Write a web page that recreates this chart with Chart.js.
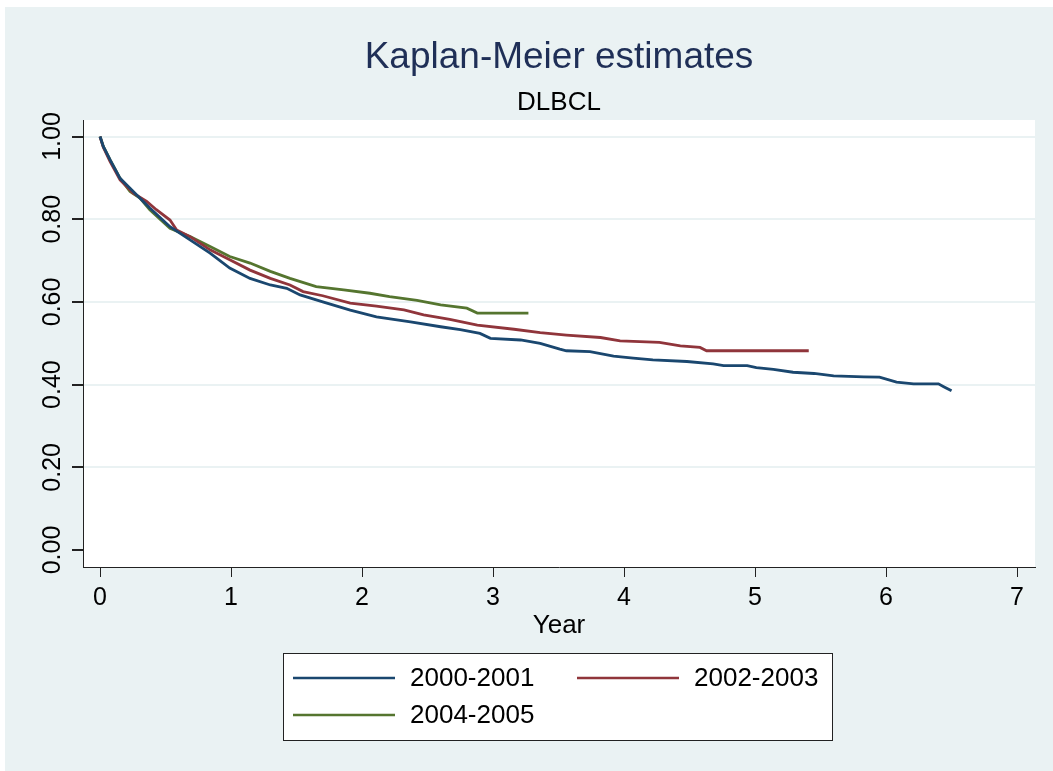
<!DOCTYPE html>
<html>
<head>
<meta charset="utf-8">
<script src="https://cdn.jsdelivr.net/npm/chart.js@4"></script>
<style>
  html, body { margin: 0; padding: 0; background: #fff; }
  #wrap { width: 1053px; height: 771px; }
</style>
</head>
<body>
<div id="wrap"><canvas id="kmChart" width="1053" height="771"></canvas></div>
<script>
// Kaplan-Meier survival estimates
var labels = ["2000-2001", "2002-2003", "2004-2005"];

var years2000 = [0, 0.025, 0.076, 0.153, 0.229, 0.38, 0.534, 0.687, 0.84, 0.99, 1.145, 1.30, 1.425, 1.527, 1.70, 1.91, 2.11, 2.37, 2.60, 2.75, 2.90, 2.98, 3.21, 3.36, 3.51, 3.56, 3.74, 3.92, 4.07, 4.22, 4.48, 4.68, 4.76, 4.94, 5.01, 5.14, 5.29, 5.45, 5.60, 5.83, 5.95, 6.08, 6.21, 6.40, 6.44, 6.50];
var surv2000  = [1, 0.976, 0.944, 0.899, 0.875, 0.827, 0.782, 0.750, 0.718, 0.682, 0.657, 0.641, 0.633, 0.617, 0.600, 0.580, 0.564, 0.552, 0.540, 0.533, 0.524, 0.512, 0.508, 0.500, 0.486, 0.482, 0.480, 0.469, 0.464, 0.460, 0.456, 0.450, 0.446, 0.446, 0.441, 0.437, 0.430, 0.427, 0.421, 0.419, 0.418, 0.406, 0.402, 0.402, 0.395, 0.385];

var years2002 = [0, 0.025, 0.076, 0.153, 0.254, 0.356, 0.43, 0.534, 0.585, 0.687, 0.84, 0.99, 1.145, 1.30, 1.45, 1.55, 1.70, 1.91, 2.11, 2.32, 2.47, 2.67, 2.88, 3.16, 3.36, 3.56, 3.82, 3.97, 4.27, 4.43, 4.58, 4.63, 5.41];
var surv2002  = [1, 0.974, 0.940, 0.895, 0.863, 0.843, 0.823, 0.798, 0.774, 0.758, 0.726, 0.702, 0.677, 0.657, 0.641, 0.625, 0.615, 0.597, 0.590, 0.581, 0.569, 0.558, 0.544, 0.534, 0.526, 0.520, 0.514, 0.506, 0.502, 0.494, 0.490, 0.482, 0.482];

var years2004 = [0, 0.025, 0.076, 0.153, 0.229, 0.305, 0.38, 0.534, 0.687, 0.84, 0.99, 1.145, 1.30, 1.45, 1.65, 1.86, 2.06, 2.21, 2.42, 2.60, 2.80, 2.88, 3.27];
var surv2004  = [1, 0.976, 0.944, 0.899, 0.867, 0.851, 0.823, 0.778, 0.758, 0.734, 0.710, 0.694, 0.674, 0.657, 0.637, 0.629, 0.621, 0.613, 0.604, 0.593, 0.585, 0.573, 0.573];

var xTicks = [0, 1, 2, 3, 4, 5, 6, 7];
var yTicks = [0, 0.2, 0.4, 0.6, 0.8, 1.0];

var colors = ["#1A476F", "#90353B", "#55752F"];
var bg = "#EAF2F3";
var font = "'Liberation Sans', Arial, sans-serif";

function pts(xs, ys) {
    return xs.map(function (x, i) { return { x: x, y: ys[i] }; });
}

// backgrounds, title, rotated y labels and the boxed legend (Stata look)
var stataLook = {
    id: 'stataLook',
    beforeDraw: function (chart) {
        var c = chart.ctx, a = chart.chartArea;
        c.save();
        c.fillStyle = '#fff';
        c.fillRect(0, 0, chart.width, chart.height);
        c.fillStyle = bg;
        c.fillRect(5, 7, chart.width - 5, chart.height - 7);
        c.fillStyle = '#fff';
        c.fillRect(a.left, a.top, a.right - a.left, a.bottom - a.top);
        c.restore();
    },
    afterDraw: function (chart) {
        var c = chart.ctx, a = chart.chartArea;
        var mid = (a.left + a.right) / 2;
        c.save();
        c.textAlign = 'center';
        c.textBaseline = 'alphabetic';
        c.fillStyle = '#1f2f57';
        c.font = '37px ' + font;
        c.fillText('Kaplan-Meier estimates', mid, 68);
        c.fillStyle = '#000';
        c.font = '26px ' + font;
        c.fillText('DLBCL', mid, 110);

        // y tick labels, rotated
        var ys = chart.scales.y;
        c.font = '25px ' + font;
        c.textBaseline = 'middle';
        ys.ticks.forEach(function (t) {
            var py = ys.getPixelForValue(t.value);
            c.save();
            c.translate(53, py);
            c.rotate(-Math.PI / 2);
            c.fillText(t.value.toFixed(2), 0, 0);
            c.restore();
        });

        // legend box
        var bx = 283, by = 653, bw = 549, bh = 87;
        c.fillStyle = '#fff';
        c.fillRect(bx, by, bw, bh);
        c.strokeStyle = '#222';
        c.lineWidth = 1;
        c.strokeRect(bx + 0.5, by + 0.5, bw, bh);
        c.textAlign = 'left';
        c.font = '26px ' + font;
        chart.data.datasets.forEach(function (ds, i) {
            var col = i % 2, row = Math.floor(i / 2);
            var lx = bx + 10 + col * 284, ly = by + 25 + row * 37;
            c.strokeStyle = ds.borderColor;
            c.lineWidth = 2.5;
            c.beginPath();
            c.moveTo(lx, ly);
            c.lineTo(lx + 102, ly);
            c.stroke();
            c.fillStyle = '#000';
            c.fillText(ds.label, lx + 117, ly + 1);
        });
        c.restore();
    }
};

var ctx = document.getElementById('kmChart');

var kmChart = new Chart(ctx, {
    type: 'line',
    data: {
        datasets: [
            { label: labels[0], data: pts(years2000, surv2000), borderColor: colors[0] },
            { label: labels[1], data: pts(years2002, surv2002), borderColor: colors[1] },
            { label: labels[2], data: pts(years2004, surv2004), borderColor: colors[2] }
        ]
    },
    options: {
        responsive: false,
        animation: false,
        layout: { padding: { top: 120, right: 18, bottom: 124, left: 0 } },
        elements: {
            line: { borderWidth: 2.8, tension: 0, fill: false },
            point: { radius: 0 }
        },
        plugins: {
            legend: { display: false },
            title: { display: false },
            tooltip: { enabled: false }
        },
        scales: {
            x: {
                type: 'linear',
                min: -0.13,
                max: 7.137,
                afterBuildTicks: function (s) { s.ticks = xTicks.map(function (v) { return { value: v }; }); },
                afterFit: function (s) { s.height = 80; },
                border: { display: true, color: '#222', width: 1 },
                grid: { drawOnChartArea: false, tickLength: 10, tickColor: '#222', lineWidth: 1 },
                ticks: {
                    color: '#000',
                    padding: 6,
                    maxRotation: 0,
                    font: { family: font, size: 25 },
                    callback: function (v) { return String(v); }
                },
                title: {
                    display: true,
                    text: 'Year',
                    color: '#000',
                    font: { family: font, size: 26 },
                    padding: { top: 0, bottom: 6 }
                }
            },
            y: {
                type: 'linear',
                min: -0.041,
                max: 1.040,
                afterBuildTicks: function (s) { s.ticks = yTicks.map(function (v) { return { value: v }; }); },
                afterFit: function (s) { s.width = 83; },
                border: { display: true, color: '#222', width: 1 },
                grid: {
                    color: function (c) { return c.tick && c.tick.value === 0 ? 'rgba(0,0,0,0)' : bg; },
                    lineWidth: 2,
                    tickLength: 11,
                    tickColor: '#222'
                },
                ticks: { display: false }
            }
        }
    },
    plugins: [stataLook]
});
</script>
</body>
</html>
